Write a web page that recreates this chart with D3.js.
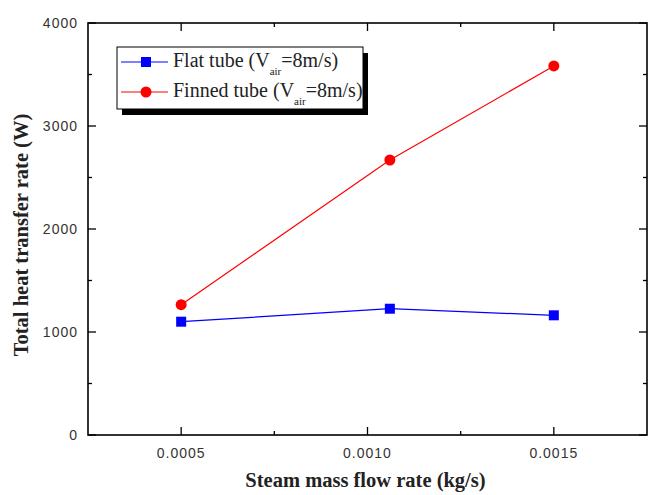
<!DOCTYPE html>
<html>
<head>
<meta charset="utf-8">
<script src="https://cdn.jsdelivr.net/npm/d3@7"></script>
<style>
  body { margin: 0; background: #fff; }
  svg { display: block; }
</style>
</head>
<body>
<div id="chart"></div>
<script>
const flowRates = [0.0005, 0.00106, 0.0015];
const flatTube = [1100, 1226, 1162];
const finnedTube = [1265, 2670, 3583];
const yTicks = [0, 1000, 2000, 3000, 4000];
const xTicks = [0.0005, 0.0010, 0.0015];

const width = 652, height = 495;
const margin = { top: 23, right: 5, bottom: 60, left: 88 };
const innerW = width - margin.left - margin.right;
const innerH = height - margin.top - margin.bottom;

const svg = d3.select("#chart").append("svg")
    .attr("width", width)
    .attr("height", height);

const g = svg.append("g").attr("transform", `translate(${margin.left},${margin.top})`);

const x = d3.scaleLinear().domain([0.00025, 0.00175]).range([0, innerW]);
const y = d3.scaleLinear().domain([0, 4000]).range([innerH, 0]);

const minorX = [0.00075, 0.00125];
const minorY = [500, 1500, 2500, 3500];

// frame
g.append("rect")
    .attr("width", innerW).attr("height", innerH)
    .attr("fill", "none").attr("stroke", "#000").attr("stroke-width", 1.6);

const tickStyle = sel => sel.attr("stroke", "#000").attr("stroke-width", 1.3);

// bottom + top ticks (inward)
[xTicks, minorX].forEach((ticks, i) => {
    const len = i === 0 ? 8 : 4;
    ticks.forEach(t => {
        g.append("line").attr("x1", x(t)).attr("x2", x(t)).attr("y1", innerH).attr("y2", innerH - len).call(tickStyle);
        g.append("line").attr("x1", x(t)).attr("x2", x(t)).attr("y1", 0).attr("y2", len).call(tickStyle);
    });
});
// left + right ticks (inward)
[yTicks, minorY].forEach((ticks, i) => {
    const len = i === 0 ? 8 : 4;
    ticks.forEach(t => {
        g.append("line").attr("x1", 0).attr("x2", len).attr("y1", y(t)).attr("y2", y(t)).call(tickStyle);
        g.append("line").attr("x1", innerW).attr("x2", innerW - len).attr("y1", y(t)).attr("y2", y(t)).call(tickStyle);
    });
});

// tick labels
g.selectAll(".xl").data(xTicks).join("text")
    .attr("x", d => x(d)).attr("y", innerH + 23)
    .attr("text-anchor", "middle")
    .style("font-family", "Liberation Sans, Arial, sans-serif")
    .style("font-size", "14px").style("letter-spacing", "1px").style("fill", "#333")
    .text(d => d.toFixed(4));

g.selectAll(".yl").data(yTicks).join("text")
    .attr("x", -10).attr("y", d => y(d) + 5)
    .attr("text-anchor", "end")
    .style("font-family", "Liberation Sans, Arial, sans-serif")
    .style("font-size", "14px").style("letter-spacing", "1px").style("fill", "#333")
    .text(d => d);

// axis titles
svg.append("text")
    .attr("x", margin.left + innerW / 2 - 2).attr("y", 487)
    .attr("text-anchor", "middle")
    .style("font-family", "Liberation Serif, Times New Roman, serif")
    .style("font-size", "20.5px").style("font-weight", "bold").style("fill", "#222")
    .text("Steam mass flow rate (kg/s)");

svg.append("text")
    .attr("transform", "translate(28, 235) rotate(-90)")
    .attr("text-anchor", "middle")
    .style("font-family", "Liberation Serif, Times New Roman, serif")
    .style("font-size", "20.5px").style("font-weight", "bold").style("fill", "#222")
    .text("Total heat transfer rate (W)");

// series
const line = d3.line().x(d => x(d[0])).y(d => y(d[1]));
const flatData = flowRates.map((r, i) => [r, flatTube[i]]);
const finnedData = flowRates.map((r, i) => [r, finnedTube[i]]);

g.append("path").datum(flatData).attr("d", line)
    .attr("fill", "none").attr("stroke", "#0000ff").attr("stroke-width", 1.2);
g.append("path").datum(finnedData).attr("d", line)
    .attr("fill", "none").attr("stroke", "#ff0000").attr("stroke-width", 1.2);

g.selectAll(".sq").data(flatData).join("rect")
    .attr("x", d => x(d[0]) - 5).attr("y", d => y(d[1]) - 5)
    .attr("width", 10).attr("height", 10).attr("fill", "#0000ff");
g.selectAll(".ci").data(finnedData).join("circle")
    .attr("cx", d => x(d[0])).attr("cy", d => y(d[1])).attr("r", 5.5)
    .attr("fill", "#ff0000");

// legend
const legend = svg.append("g").attr("transform", "translate(117,47)");
const lw = 246, lh = 62;
legend.append("rect").attr("x", 5).attr("y", 6).attr("width", lw).attr("height", lh).attr("fill", "#000");
legend.append("rect").attr("width", lw).attr("height", lh).attr("fill", "#fff").attr("stroke", "#000").attr("stroke-width", 1);

const items = [
    { name: "Flat tube (V", color: "#0000ff", shape: "square" },
    { name: "Finned tube (V", color: "#ff0000", shape: "circle" }
];
items.forEach((it, i) => {
    const cy = 15 + i * 30;
    legend.append("line").attr("x1", 4).attr("x2", 51).attr("y1", cy).attr("y2", cy)
        .attr("stroke", it.color).attr("stroke-width", 1.2);
    if (it.shape === "square") {
        legend.append("rect").attr("x", 24).attr("y", cy - 5).attr("width", 10).attr("height", 10).attr("fill", it.color);
    } else {
        legend.append("circle").attr("cx", 29).attr("cy", cy).attr("r", 5.5).attr("fill", it.color);
    }
    const t = legend.append("text").attr("x", 56).attr("y", cy + 5)
        .style("font-family", "Liberation Serif, Times New Roman, serif")
        .style("font-size", "20px").style("fill", "#222");
    t.append("tspan").text(it.name);
    t.append("tspan").attr("dy", 8).style("font-size", "11px").text("air");
    t.append("tspan").attr("dy", -8).text("=8m/s)");
});
</script>
</body>
</html>
